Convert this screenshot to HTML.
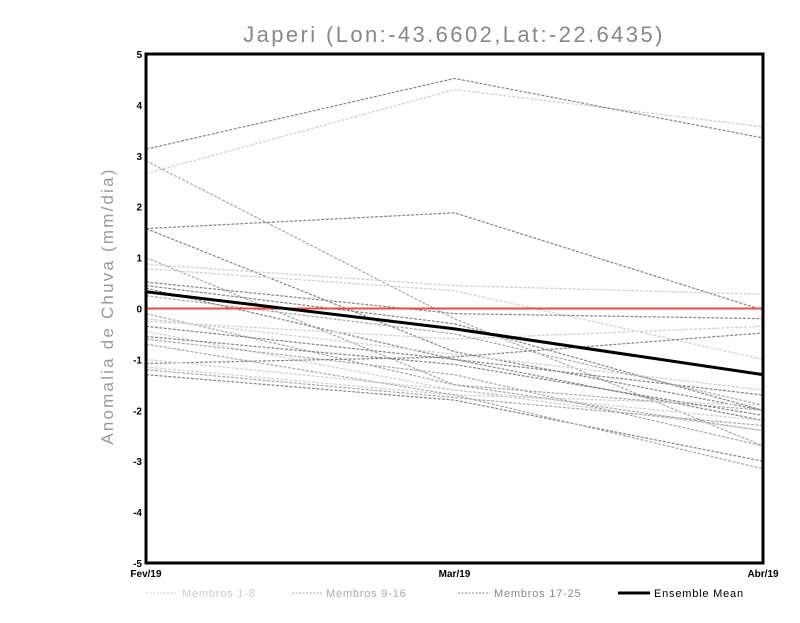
<!DOCTYPE html>
<html><head><meta charset="utf-8"><style>
body{margin:0;background:#fff;width:800px;height:618px;overflow:hidden}
svg text{font-family:"Liberation Sans",sans-serif}
</style></head><body>
<svg width="800" height="618">
<text x="454" y="42" text-anchor="middle" font-size="22" fill="#888" letter-spacing="2.4">Japeri (Lon:-43.6602,Lat:-22.6435)</text>
<text transform="translate(113,306) rotate(-90)" text-anchor="middle" font-size="17" fill="#999" letter-spacing="2.2">Anomalia de Chuva (mm/dia)</text>
<g id="marks"></g>
<g id="axes"></g>
<g id="legend">
<line x1="146" y1="593" x2="178" y2="593" stroke="#ccc" stroke-dasharray="2,1.5"/>
<text x="182" y="597" font-size="11" fill="#ccc" letter-spacing="0.8">Membros 1-8</text>
<line x1="292" y1="593" x2="322" y2="593" stroke="#aaa" stroke-dasharray="2,1.5"/>
<text x="326" y="597" font-size="11" fill="#aaa" letter-spacing="0.8">Membros 9-16</text>
<line x1="458" y1="593" x2="490" y2="593" stroke="#888" stroke-dasharray="2,1.5"/>
<text x="494" y="597" font-size="11" fill="#888" letter-spacing="0.8">Membros 17-25</text>
<line x1="618" y1="593" x2="650" y2="593" stroke="#000" stroke-width="3"/>
<text x="654" y="597" font-size="11" fill="#000" letter-spacing="0.8">Ensemble Mean</text>
</g>
</svg>
<script>
const categories=["Fev/19","Mar/19","Abr/19"];
const yTicks=[-5,-4,-3,-2,-1,0,1,2,3,4,5];
const memberGroups=["light","dark","mid","dark","dark","mid","light","light","dark","dark","dark","mid","light","dark","light","dark","mid","dark","light","mid","dark","mid","light","light","mid"];
const memberValues=[
[2.65,4.3,3.57],[3.13,4.52,3.35],[2.9,-0.2,-2.7],[1.57,1.88,-0.03],[1.57,-0.85,-2.0],
[1.0,-1.5,-2.4],[0.87,0.45,0.28],[0.78,0.35,-1.0],[0.52,-0.1,-0.2],[0.45,-0.3,-2.0],
[0.4,-1.0,-2.2],[-0.1,-1.5,-2.0],[-0.25,-0.6,-0.35],[-0.35,-1.0,-1.7],[-0.45,-1.6,-2.4],
[-0.55,-1.1,-2.1],[-0.6,-1.3,-2.7],[-1.08,-0.95,-0.48],[-1.15,-1.7,-1.9],[-1.2,-1.75,-2.3],
[-1.3,-1.8,-3.0],[-0.7,-1.7,-3.15],[-1.0,-1.6,-2.2],[-0.2,-0.9,-1.6],[0.25,-0.5,-1.9]];
const meanValues=[0.33,-0.4,-1.3];
const L=146,R=763,T=54,B=563;
const xS=i=>L+i*(R-L)/(categories.length-1);
const yS=v=>B-(v+5)*(B-T)/10;
const NS="http://www.w3.org/2000/svg";
const marks=document.getElementById('marks'),axes=document.getElementById('axes');
const col={light:"#cfcfcf",mid:"#a8a8a8",dark:"#858585"};
memberValues.forEach((vals,k)=>{
  const p=document.createElementNS(NS,'polyline');
  p.setAttribute('points',vals.map((v,i)=>xS(i)+','+yS(v)).join(' '));
  p.setAttribute('fill','none');p.setAttribute('stroke',col[memberGroups[k]]);
  p.setAttribute('stroke-width','1.2');p.setAttribute('stroke-dasharray','3,1.5');
  
  
  marks.appendChild(p);
});
const z=document.createElementNS(NS,'line');
z.setAttribute('x1',L);z.setAttribute('x2',R);z.setAttribute('y1',yS(0));z.setAttribute('y2',yS(0));
z.setAttribute('stroke','#f04848');z.setAttribute('stroke-width','2');


marks.appendChild(z);
const m=document.createElementNS(NS,'polyline');
m.setAttribute('points',meanValues.map((v,i)=>xS(i)+','+yS(v)).join(' '));
m.setAttribute('fill','none');m.setAttribute('stroke','#000');m.setAttribute('stroke-width','3');


marks.appendChild(m);
const fr=document.createElementNS(NS,'rect');
fr.setAttribute('x',L);fr.setAttribute('y',T);fr.setAttribute('width',R-L);fr.setAttribute('height',B-T);
fr.setAttribute('fill','none');fr.setAttribute('stroke','#000');fr.setAttribute('stroke-width','3');


axes.appendChild(fr);
yTicks.forEach(t=>{
  const tx=document.createElementNS(NS,'text');
  tx.setAttribute('x',L-4);tx.setAttribute('y',yS(t)+4);tx.setAttribute('text-anchor','end');
  tx.setAttribute('font-size','10');tx.setAttribute('font-weight','bold');
  tx.textContent=t;
  
  
  axes.appendChild(tx);
});
categories.forEach((c,i)=>{
  const tx=document.createElementNS(NS,'text');
  tx.setAttribute('x',xS(i));tx.setAttribute('y',B+14);tx.setAttribute('text-anchor','middle');
  tx.setAttribute('font-size','10');tx.setAttribute('font-weight','bold');
  tx.textContent=c;
  
  
  axes.appendChild(tx);
});
</script>
</body></html>
